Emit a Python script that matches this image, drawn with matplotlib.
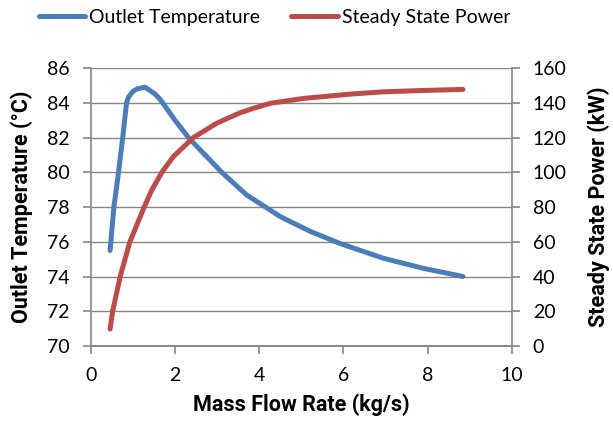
import matplotlib
matplotlib.use('Agg')
import matplotlib.pyplot as plt

# values
flow_temp = [0.46, 0.55, 0.66, 0.76, 0.85, 0.90, 1.0, 1.1, 1.29, 1.53, 1.66, 2.0,
             2.32, 3.11, 3.70, 4.50, 5.21, 5.92, 6.95, 7.90, 8.84]
outlet_temp = [75.5, 78.0, 80.0, 82.0, 84.0, 84.35, 84.65, 84.8, 84.9, 84.5, 84.16, 83.0,
               82.0, 80.0, 78.7, 77.45, 76.6, 75.9, 75.05, 74.47, 74.0]

flow_power = [0.46, 0.52, 0.70, 0.93, 1.27, 1.45, 1.69, 1.96, 2.44, 2.99, 3.55,
              3.86, 4.26, 5.05, 6.16, 6.94, 7.89, 8.84]
steady_power = [9.8, 20, 40, 60, 80, 89.8, 100, 109, 120, 128.2, 134.3,
                136.8, 139.7, 142.5, 145, 146.3, 147.1, 147.7]

x_ticks = [0, 2, 4, 6, 8, 10]
temp_ticks = [70, 72, 74, 76, 78, 80, 82, 84, 86]
power_ticks = [0, 20, 40, 60, 80, 100, 120, 140, 160]

BLUE = '#4A7EBB'
RED = '#BE4B48'
GREY = '#868686'

plt.rcParams['font.family'] = ['Lato', 'DejaVu Sans']
plt.rcParams['font.size'] = 14
bold_font = dict(family=['Roboto', 'Liberation Sans', 'DejaVu Sans'],
                 fontweight='bold', fontsize=15.5)

fig = plt.figure(figsize=(6.13, 4.28), dpi=100)
ax = fig.add_axes([0.148, 0.1916, 0.687, 0.6494])
ax2 = ax.twinx()

l1, = ax.plot(flow_temp, outlet_temp, color=BLUE, lw=3.6,
              solid_capstyle='round', solid_joinstyle='round', zorder=3)
l2, = ax2.plot(flow_power, steady_power, color=RED, lw=3.6,
               solid_capstyle='round', solid_joinstyle='round', zorder=3)

ax.set_xlim(0, 10)
ax.set_ylim(70, 86)
ax2.set_ylim(0, 160)
ax.set_xticks(x_ticks)
ax.set_yticks(temp_ticks)
ax2.set_yticks(power_ticks)

ax.grid(axis='y', color=GREY, lw=1.0)
ax.set_axisbelow(True)

for a in (ax, ax2):
    for s in a.spines.values():
        s.set_color(GREY)
        s.set_linewidth(1.2)
    a.spines['top'].set_visible(False)
    a.tick_params(color=GREY, length=6, width=1.2, labelsize=14, pad=9)
ax2.spines['left'].set_visible(False)
ax.spines['right'].set_visible(False)

ax.set_xlabel('Mass Flow Rate (kg/s)', labelpad=7, **bold_font)
ax.set_ylabel('Outlet Temperature (°C)', **bold_font)
ax2.set_ylabel('Steady State Power (kW)', **bold_font)
ax.yaxis.set_label_coords(-0.137, 0.5)
ax2.yaxis.set_label_coords(1.18, 0.5)

fig.legend([l1, l2], ['Outlet Temperature', 'Steady State Power'],
           loc='center', bbox_to_anchor=(0.448, 0.96), ncol=2, frameon=False,
           handlelength=2.4, handletextpad=0.2, columnspacing=1.6,
           fontsize=14)

fig.savefig('out.png', dpi=100)
